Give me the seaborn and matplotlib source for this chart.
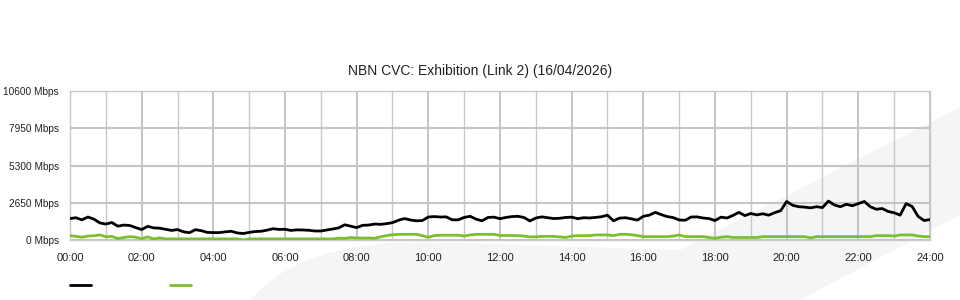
import numpy as np
import pandas as pd
import matplotlib
matplotlib.use("Agg")
import matplotlib.pyplot as plt
import seaborn as sns
from matplotlib.patches import Polygon
from matplotlib.lines import Line2D

# ---------------- data ----------------
title = "NBN CVC: Exhibition (Link 2) (16/04/2026)"
series_names = ["Download", "Upload"]
series_colors = ["#000000", "#7cbf2e"]

# samples every 10 minutes from 00:00 to 24:00 (Mbps)
download_mbps = [
    1540, 1600, 1450, 1650, 1500, 1230, 1150, 1260, 1000, 1080,
    1050, 900, 760, 990, 880, 860, 780, 700, 760, 600,
    540, 750, 680, 560, 545, 545, 600, 640, 520, 480,
    560, 620, 640, 720, 820, 770, 780, 700, 740, 730,
    710, 660, 660, 730, 800, 880, 1100, 1000, 900, 1060,
    1080, 1150, 1130, 1180, 1250, 1420, 1540, 1440, 1380, 1400,
    1650, 1680, 1650, 1660, 1450, 1450, 1620, 1700, 1500, 1380,
    1620, 1640, 1530, 1620, 1680, 1700, 1620, 1370, 1580, 1660,
    1600, 1540, 1560, 1620, 1640, 1530, 1600, 1580, 1620, 1670,
    1780, 1380, 1570, 1600, 1520, 1430, 1700, 1780, 1980, 1820,
    1680, 1610, 1440, 1420, 1650, 1660, 1580, 1540, 1400, 1640,
    1580, 1760, 1980, 1750, 1900, 1800, 1880, 1780, 1960, 2100,
    2750, 2480, 2380, 2350, 2300, 2380, 2320, 2780, 2500, 2380,
    2550, 2450, 2600, 2750, 2380, 2200, 2250, 2040, 1950, 1780,
    2600, 2400, 1700, 1400, 1470,
]
upload_mbps = [
    330, 280, 220, 300, 320, 380, 250, 280, 120, 200,
    260, 220, 120, 240, 100, 180, 100, 100, 100, 100,
    100, 100, 100, 100, 100, 100, 100, 100, 100, 20,
    100, 100, 100, 100, 100, 100, 100, 100, 100, 100,
    100, 100, 100, 100, 100, 150, 140, 200, 170, 160,
    170, 140, 250, 330, 400, 420, 425, 425, 425, 330,
    220, 330, 360, 360, 360, 360, 300, 380, 420, 425,
    425, 425, 340, 340, 340, 330, 300, 240, 250, 280,
    280, 280, 240, 200, 300, 330, 330, 330, 380, 380,
    380, 330, 420, 425, 400, 330, 260, 260, 260, 260,
    260, 300, 380, 260, 260, 260, 260, 200, 140, 220,
    260, 200, 200, 200, 200, 200, 260, 260, 260, 260,
    260, 260, 260, 260, 170, 260, 260, 260, 260, 260,
    260, 260, 260, 260, 260, 330, 330, 330, 300, 380,
    380, 380, 300, 260, 260,
]
ytick_values = [0, 2650, 5300, 7950, 10600]
ytick_labels = ["0 Mbps", "2650 Mbps", "5300 Mbps", "7950 Mbps", "10600 Mbps"]
xtick_hours = [0, 2, 4, 6, 8, 10, 12, 14, 16, 18, 20, 22, 24]
xtick_labels = ["00:00", "02:00", "04:00", "06:00", "08:00", "10:00", "12:00",
                "14:00", "16:00", "18:00", "20:00", "22:00", "24:00"]

# ---------------- build table ----------------
times = pd.date_range("2026-04-16 00:00", "2026-04-17 00:00", freq="10min")
hours = (times - times[0]).total_seconds() / 3600.0
df = pd.concat([
    pd.DataFrame({"hour": hours, "Mbps": download_mbps, "series": series_names[0]}),
    pd.DataFrame({"hour": hours, "Mbps": upload_mbps, "series": series_names[1]}),
])

# ---------------- style ----------------
sns.set_style("white")
plt.rcParams["font.family"] = ["Liberation Sans", "DejaVu Sans"]
plt.rcParams["text.color"] = "#222222"

W, H = 960, 300
fig = plt.figure(figsize=(9.6, 3.0), dpi=100)
fig.patch.set_facecolor("white")

# faint background watermark shape
def px(pts):
    return [(x / W, 1 - y / H) for x, y in pts]

wm = Polygon(px([(250, 300), (262, 288), (280, 274), (300, 263), (325, 254),
                 (355, 247), (390, 243), (425, 242), (680, 250), (960, 107),
                 (960, 215), (800, 300)]),
             closed=True, transform=fig.transFigure, facecolor="#f4f5f7",
             edgecolor="none", zorder=0)
fig.patches.append(wm)

ax = fig.add_axes([70 / W, 1 - 240.3 / H, 860 / W, (240.3 - 90.7) / H])
ax.set_zorder(2)
ax.set_facecolor("none")

sns.lineplot(data=df, x="hour", y="Mbps", hue="series",
             palette=dict(zip(series_names, series_colors)),
             linewidth=2.0, legend=False, ax=ax, zorder=3)

ax.set_xlim(0, 24)
ax.set_ylim(0, 10600)
ax.set_xticks(xtick_hours)
ax.set_xticklabels(xtick_labels, fontsize=8)
ax.set_xticks(range(0, 25), minor=True)
ax.set_yticks(ytick_values)
ax.set_yticklabels(ytick_labels, fontsize=7.3)
ax.set_xlabel("")
ax.set_ylabel("")

ax.grid(False)
ax.yaxis.grid(True, color="#c4c4c4", linewidth=1.5, zorder=1)
ax.xaxis.grid(True, which="minor", color="#c8c8c8", linewidth=1.0, zorder=1)
ax.xaxis.grid(True, which="major", color="#c0c0c0", linewidth=1.3, zorder=1)
ax.set_axisbelow(True)

ax.tick_params(axis="x", which="major", length=6, width=1.0, color="#bbbbbb",
               pad=3, labelcolor="#222222")
ax.tick_params(axis="x", which="minor", length=0)
ax.tick_params(axis="y", length=0, pad=8, labelcolor="#222222")

for side in ["top", "right", "left", "bottom"]:
    ax.spines[side].set_visible(True)
    ax.spines[side].set_color("#c8c8c8")
    ax.spines[side].set_linewidth(1.0)

fig.text(0.5, 1 - 71 / H, title, fontsize=10, ha="center", va="center",
         color="#222222")

# legend swatches (no label text in the reference)
for x0, c in zip([70, 170], series_colors):
    fig.add_artist(Line2D([x0 / W, (x0 + 21) / W], [1 - 285 / H, 1 - 285 / H],
                          color=c, linewidth=2.0, transform=fig.transFigure))

fig.savefig("out.png", dpi=100, facecolor="white")
